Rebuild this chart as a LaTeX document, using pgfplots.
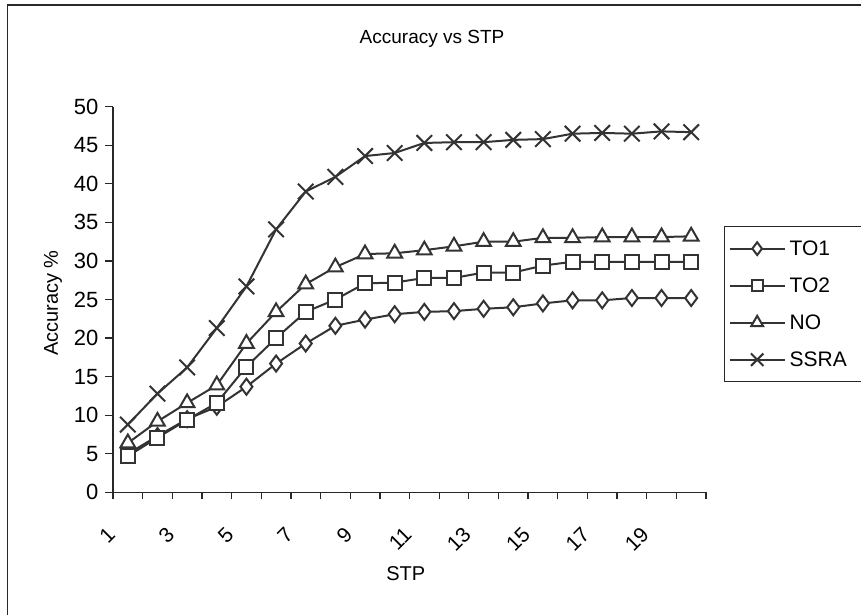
\documentclass[border=0pt]{standalone}
\usepackage{fontspec}
\setmainfont{Liberation Sans}
\usepackage{pgfplots}
\pgfplotsset{compat=1.18}
\usepackage{pgfplotstable}
\definecolor{ser}{RGB}{51,51,51}
\definecolor{frm}{RGB}{40,40,40}

\pgfplotstableread{
stp to1  to2  no   ssra
1   5.0  4.7  6.4  8.8
2   7.3  7.1  9.2  12.8
3   9.5  9.4  11.6 16.2
4   11.1 11.6 13.9 21.3
5   13.7 16.3 19.3 26.7
6   16.7 20.0 23.4 34.1
7   19.3 23.4 27.0 39.0
8   21.6 25.0 29.2 40.9
9   22.4 27.1 30.9 43.6
10  23.1 27.2 31.0 44.0
11  23.4 27.8 31.4 45.3
12  23.5 27.8 31.9 45.4
13  23.8 28.5 32.5 45.4
14  24.0 28.5 32.5 45.7
15  24.5 29.4 33.0 45.8
16  24.9 29.9 33.0 46.5
17  24.9 29.9 33.1 46.6
18  25.2 29.9 33.1 46.5
19  25.2 29.9 33.1 46.8
20  25.2 29.9 33.2 46.7
}\acc

\newcommand{\lgd}[1]{\makebox[100pt][l]{#1}}

\begin{document}
\begin{tikzpicture}[x=1pt,y=1pt]
\useasboundingbox (0,0) rectangle (861,614);
% chart frame, cut off at right and bottom
\draw[line width=1.6pt, frm] (7.5,-5) -- (7.5,609) -- (870,609);
\begin{axis}[
  at={(113pt,121.6pt)}, anchor=south west,
  scale only axis, width=593pt, height=385.7pt,
  xmin=0.5, xmax=20.5, ymin=0, ymax=50,
  axis x line=bottom, axis y line=left,
  axis line style={-, line width=1.3pt, frm},
  xtick={1,3,...,19},
  minor xtick={0.5,1.5,...,20.5},
  major x tick style={draw=none},
  ytick={0,5,...,50},
  tick align=outside,
  major tick length=8pt, minor tick length=7pt,
  every tick/.style={line width=1.3pt, frm},
  every minor tick/.style={line width=1.3pt, frm},
  /pgf/number format/assume math mode=true,
  yticklabel style={font=\fontsize{22}{26}\selectfont, xshift=-3pt},
  xticklabel style={font=\fontsize{21}{25}\selectfont, xshift=-14pt, yshift=-28pt, rotate=45, anchor=east},
  title={Accuracy vs STP},
  title style={at={(axis description cs:0.538,1.16)}, anchor=center, font=\fontsize{19}{23}\selectfont},
  xlabel={STP},
  xlabel style={at={(axis description cs:0.4936,-0.2116)}, anchor=center, font=\fontsize{20}{24}\selectfont},
  ylabel={Accuracy \%},
  ylabel style={at={(axis description cs:-0.101,0.491)}, anchor=center, font=\fontsize{20}{24}\selectfont},
  legend style={at={(axis description cs:1.0304,0.6907)}, anchor=north west,
    draw=frm, line width=1.3pt, font=\fontsize{21}{25}\selectfont,
    inner xsep=4pt, inner ysep=3.5pt, column sep=2pt,
    nodes={inner xsep=2pt, inner ysep=0pt, minimum height=37pt}},
  legend cell align=left,
  legend image code/.code={\draw[mark repeat=2,mark phase=2,#1,every mark/.append style={scale=0.8}] plot coordinates {(0pt,0pt) (27.5pt,0pt) (55pt,0pt)};},
]
\addplot[ser, line width=2pt, mark=diamond*, mark size=8pt, mark options={ser, fill=white, line width=2pt}] table[x=stp,y=to1]{\acc};
\addlegendentry{\lgd{TO1}}
\addplot[ser, line width=2pt, mark=square*, mark size=7pt, mark options={ser, fill=white, line width=2pt}] table[x=stp,y=to2]{\acc};
\addlegendentry{\lgd{TO2}}
\addplot[ser, line width=2pt, mark=triangle*, mark size=8.5pt, mark options={ser, fill=white, line width=2pt}] table[x=stp,y=no]{\acc};
\addlegendentry{\lgd{NO}}
\addplot[ser, line width=2pt, mark=x, mark size=11pt, mark options={ser, line width=2pt}] table[x=stp,y=ssra]{\acc};
\addlegendentry{\lgd{SSRA}}
\end{axis}
\end{tikzpicture}
\end{document}
